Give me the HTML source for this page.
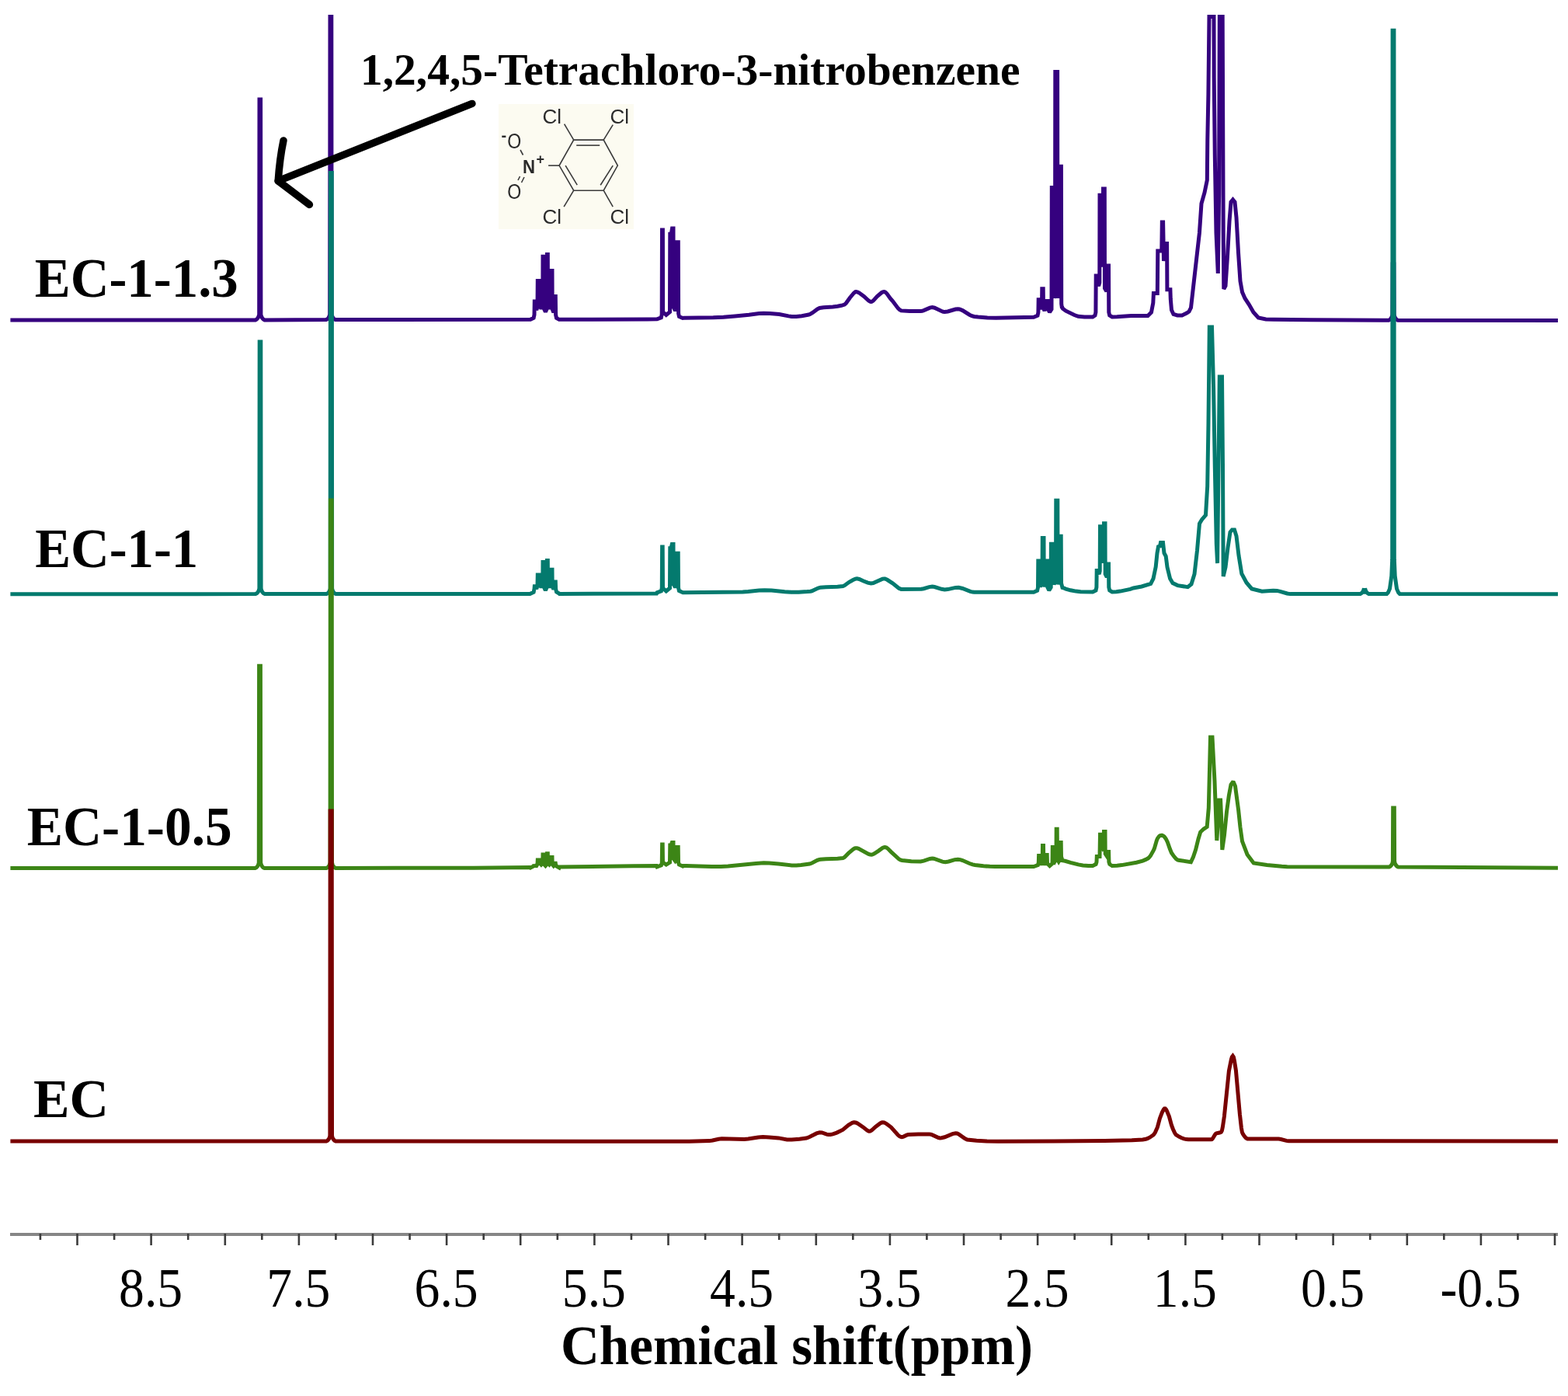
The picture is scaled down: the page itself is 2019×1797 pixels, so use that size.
<!DOCTYPE html>
<html><head><meta charset="utf-8"><title>NMR spectra</title>
<style>html,body{margin:0;padding:0;background:#fff;overflow:hidden}svg{display:block}</style>
</head><body>
<svg width="2019" height="1797" viewBox="0 0 2019 1797">
<rect width="2019" height="1797" fill="#ffffff"/>
<g fill="none" stroke-width="5" stroke-linejoin="miter" stroke-miterlimit="2" stroke-linecap="butt">
<path d="M13.4 412.0L322.4 412.0 328.9 411.9 330.5 411.1 332.0 409.4 333.0 407.4 333.7 404.9 334.0 128.0 335.6 128.0 335.9 404.9 336.6 407.4 337.6 409.4 339.1 411.1 340.7 411.9 419.9 411.6 421.5 410.8 423.0 409.1 424.0 407.1 424.7 404.6 425.0 21.4 426.8 21.4 427.1 404.6 427.8 407.1 428.8 409.1 430.3 410.8 431.9 411.6 683.0 411.3 687.1 409.3 688.0 405.3 688.3 388.1 689.0 388.1 689.2 395.0 690.8 399.0 692.0 395.0 692.3 361.4 694.8 361.4 695.0 393.5 696.9 397.5 698.8 393.5 699.0 330.3 700.3 330.3 700.5 397.5 702.4 401.5 704.2 397.5 704.5 327.5 705.3 327.5 705.5 393.5 707.4 397.5 709.2 393.5 709.5 348.6 711.0 348.6 711.2 398.0 712.8 402.0 714.4 398.0 714.6 381.5 715.3 381.5 715.6 405.3 716.5 409.3 720.0 411.3 833.4 411.0 846.0 410.8 851.3 408.8 852.2 404.8 852.5 296.0 853.4 296.0 853.6 401.5 857.8 405.5 862.5 401.5 862.8 301.2 864.3 301.2 865.5 294.0 867.0 294.0 867.2 395.7 869.5 399.7 871.8 395.7 872.0 311.7 873.3 311.7 873.6 403.5 874.5 407.5 879.0 409.5 880.4 409.3 918.4 408.7 931.4 408.2 946.4 407.0 964.4 405.2 977.4 403.6 983.4 403.2 991.4 403.4 1003.4 404.5 1015.4 406.9 1019.4 407.5 1025.4 407.5 1032.4 406.7 1041.4 405.0 1043.4 404.2 1046.4 402.4 1052.4 397.9 1055.4 396.5 1060.4 395.7 1072.4 394.9 1078.4 394.2 1083.4 393.3 1087.4 392.1 1089.4 390.3 1094.4 383.2 1099.4 377.2 1101.4 375.7 1102.4 375.5 1104.4 376.0 1106.4 377.1 1112.4 381.5 1118.4 387.0 1120.4 388.1 1121.4 388.4 1122.4 388.3 1124.4 387.1 1129.4 381.5 1135.4 376.5 1137.4 375.6 1138.4 375.5 1139.4 375.8 1140.4 376.4 1142.4 378.5 1146.4 384.1 1149.4 387.6 1156.4 396.9 1158.4 398.8 1160.4 399.9 1171.4 400.4 1185.4 400.6 1187.4 400.3 1189.4 399.6 1197.4 396.1 1200.4 395.6 1203.4 396.2 1212.4 400.5 1214.4 401.2 1216.4 401.5 1220.4 401.0 1230.4 398.0 1233.4 397.7 1235.4 398.0 1239.4 399.6 1248.4 405.2 1251.4 406.7 1254.4 407.5 1259.4 408.1 1271.4 409.0 1282.4 409.3 1331.0 408.2 1336.0 406.2 1336.9 402.2 1337.2 385.8 1338.5 385.8 1338.8 394.0 1340.2 398.0 1341.5 394.0 1341.8 371.7 1343.2 371.7 1343.5 396.0 1345.0 400.0 1346.2 396.0 1346.5 387.5 1349.3 387.5 1349.5 398.0 1351.5 402.0 1354.0 398.0 1354.3 241.4 1356.5 241.4 1356.8 379.5 1357.4 383.5 1358.5 379.5 1358.8 92.4 1361.6 92.4 1361.8 379.5 1362.5 383.5 1363.3 379.5 1363.6 214.3 1366.4 214.3 1366.7 391.0 1367.5 397.0 1367.6 395.0 1368.4 397.2 1372.4 400.2 1383.4 405.5 1388.4 407.3 1396.4 407.9 1407.0 408.0 1410.0 406.0 1410.9 402.0 1411.2 355.0 1412.7 355.0 1413.0 364.0 1414.6 368.0 1415.8 364.0 1416.0 251.2 1417.3 251.2 1417.5 339.0 1419.5 343.0 1420.2 339.0 1420.5 243.1 1422.3 243.1 1422.5 371.0 1424.8 375.0 1426.0 371.0 1426.2 342.0 1427.5 342.0 1427.8 402.0 1428.7 406.0 1432.0 408.0 1438.4 407.8 1456.4 406.6 1478.0 406.5 1482.5 402.0 1484.8 390.0 1485.4 377.5 1490.3 377.5 1490.8 323.0 1495.8 323.0 1496.3 286.0 1497.6 286.0 1498.5 336.0 1500.0 313.5 1502.6 313.5 1502.9 372.8 1506.9 372.8 1507.3 385.0 1508.5 399.0 1511.0 404.5 1516.0 406.0 1522.0 406.0 1528.0 403.0 1531.0 401.0 1533.5 396.0 1544.4 300.0 1547.0 262.0 1551.0 248.0 1554.3 232.0 1554.8 180.0 1555.9 122.0 1557.0 21.4 1563.0 21.4 1563.2 100.0 1564.3 200.0 1566.0 300.0 1568.3 352.0 1569.6 250.0 1570.3 21.4 1574.2 21.4 1575.2 300.0 1575.8 372.0 1578.0 368.0 1580.5 330.0 1583.0 285.0 1585.0 260.0 1587.5 257.0 1590.0 260.0 1592.0 280.0 1594.5 325.0 1597.0 362.0 1599.5 376.0 1603.0 384.0 1608.3 392.0 1614.0 402.0 1620.3 409.0 1630.0 411.0 1640.0 411.3 1687.4 411.7 1788.1 412.2 1789.7 411.4 1791.2 409.7 1792.2 407.7 1792.9 405.2 1793.2 340.0 1794.8 340.0 1795.1 405.2 1795.8 407.7 1796.8 409.7 1798.3 411.4 1799.9 412.2 2006.0 412.6" stroke="#35017f"/>
<path d="M13.4 764.8L329.1 764.6 330.7 763.8 332.2 762.1 333.2 760.1 333.9 757.6 334.2 440.0 335.8 440.0 336.1 757.6 336.8 760.1 337.8 762.1 339.3 763.8 340.9 764.6 420.4 764.6 422.0 763.8 423.5 762.1 424.5 760.1 425.2 757.6 425.5 222.5 427.3 222.5 427.6 757.6 428.3 760.1 429.3 762.1 430.8 763.8 432.4 764.6 682.4 764.5 687.1 762.2 688.0 758.2 688.3 754.8 689.0 754.8 690.8 758.0 692.0 754.0 692.3 740.0 694.8 740.0 695.0 752.3 696.9 756.3 698.8 752.3 699.0 723.5 700.3 723.5 700.5 756.0 702.4 760.0 704.2 756.0 704.5 721.6 705.3 721.6 705.5 752.3 707.4 756.3 709.2 752.3 709.5 733.2 711.0 733.2 711.2 754.5 712.8 758.5 714.4 754.5 714.6 749.0 715.3 749.0 715.6 758.0 716.5 762.0 720.0 764.0 720.4 764.4 845.4 764.1 846.0 762.8 851.4 760.8 852.3 756.8 852.6 704.0 853.2 704.0 853.5 757.0 857.8 761.0 862.5 757.0 862.8 705.8 864.0 705.8 865.3 700.5 867.0 700.5 867.2 752.0 869.5 756.0 871.8 752.0 872.0 712.3 873.2 712.3 873.5 756.5 874.4 760.5 879.4 762.8 956.4 761.9 963.4 761.5 977.4 760.0 984.4 759.7 993.4 760.1 1010.4 761.7 1018.4 762.2 1028.4 762.2 1039.4 761.6 1043.4 761.2 1045.4 760.8 1053.4 757.0 1056.4 756.2 1063.4 755.7 1078.4 755.2 1085.4 754.6 1087.4 753.7 1093.4 749.3 1098.4 746.5 1101.4 745.2 1103.4 744.9 1106.4 745.5 1111.4 747.8 1117.4 750.1 1121.4 751.0 1124.4 750.5 1136.4 745.2 1138.4 744.9 1139.4 745.0 1142.4 746.3 1149.4 750.9 1157.4 757.2 1160.4 758.4 1186.4 758.3 1189.4 757.7 1196.4 755.6 1200.4 755.1 1203.4 755.5 1212.4 758.3 1216.4 759.0 1220.4 758.6 1230.4 756.4 1234.4 756.3 1239.4 757.5 1249.4 761.4 1252.4 762.1 1254.4 762.3 1331.0 762.2 1335.6 760.2 1336.5 756.2 1336.8 722.1 1337.8 722.1 1338.0 751.0 1339.8 755.0 1342.0 751.0 1342.3 692.5 1344.0 692.5 1344.2 751.0 1345.5 755.0 1346.8 751.0 1347.0 722.0 1348.6 722.0 1348.8 756.0 1350.8 760.0 1353.2 756.0 1353.4 700.3 1355.5 700.3 1355.8 748.0 1357.2 752.0 1359.5 748.0 1359.8 644.2 1361.8 644.2 1362.0 748.0 1362.8 752.0 1364.0 748.0 1364.2 690.2 1366.2 690.2 1366.5 750.5 1368.0 756.5 1369.4 756.8 1372.4 758.1 1378.4 759.8 1385.4 761.1 1391.4 761.8 1407.0 762.0 1411.0 760.0 1411.9 756.0 1412.2 734.5 1413.0 734.5 1415.3 739.0 1416.2 735.0 1416.5 677.7 1418.0 677.7 1418.2 720.0 1420.0 724.0 1421.2 720.0 1421.5 673.8 1423.0 673.8 1423.2 739.0 1425.2 743.0 1426.8 739.0 1427.0 726.0 1427.5 726.0 1427.8 756.0 1428.7 760.0 1432.0 762.0 1437.4 761.7 1442.4 761.1 1455.4 758.4 1459.4 757.0 1470.0 755.0 1481.7 751.4 1485.0 745.0 1488.2 729.7 1490.0 712.0 1491.5 703.7 1493.5 703.0 1494.5 698.5 1497.5 698.5 1499.0 712.0 1501.2 716.0 1503.0 730.0 1506.6 744.9 1510.0 750.5 1516.4 753.6 1529.4 755.7 1534.0 752.0 1538.0 739.0 1541.5 708.5 1544.5 674.0 1547.5 669.0 1552.5 663.0 1554.7 626.0 1556.0 544.0 1557.3 421.0 1560.5 421.0 1562.6 500.0 1564.3 601.0 1566.3 700.0 1567.6 725.0 1570.3 485.0 1573.5 485.0 1574.5 600.0 1575.2 742.0 1578.0 730.0 1581.0 705.0 1584.0 685.0 1586.5 682.0 1589.5 682.0 1592.0 690.0 1595.0 715.0 1598.8 738.4 1605.0 750.0 1611.8 757.9 1624.9 761.2 1639.4 760.2 1644.4 760.4 1648.4 761.3 1657.4 764.0 1661.4 764.6 1751.6 764.4 1753.2 763.6 1754.7 761.9 1755.7 759.9 1756.4 757.4 1756.7 762.2 1757.3 762.2 1757.6 757.4 1758.3 759.9 1759.3 761.9 1760.8 763.6 1762.4 764.4 1785.7 764.4 1787.3 762.9 1789.5 757.9 1791.8 741.4 1792.7 720.4 1793.1 39.2 1794.9 39.2 1795.3 720.4 1796.2 741.4 1798.5 757.9 1800.7 762.9 1802.3 764.4 2006.0 764.8" stroke="#047a6e"/>
<path d="M13.4 1117.6L328.5 1117.6 330.1 1116.8 331.6 1115.1 332.6 1113.1 333.3 1110.6 333.6 857.3 335.4 857.3 335.7 1110.6 336.4 1113.1 337.4 1115.1 338.9 1116.8 340.5 1117.6 420.3 1117.5 421.9 1116.7 423.4 1115.0 424.4 1113.0 425.1 1110.5 425.4 644.0 427.2 644.0 427.5 1110.5 428.2 1113.0 429.2 1115.0 430.7 1116.7 432.3 1117.5 609.4 1117.2 682.4 1116.5 683.0 1117.0 687.1 1115.0 688.0 1113.0 688.3 1114.2 690.8 1114.5 692.0 1112.5 692.3 1107.1 694.8 1107.1 695.0 1111.0 696.9 1113.0 698.8 1111.0 699.0 1099.9 700.3 1099.9 700.5 1112.5 702.4 1114.5 704.2 1112.5 704.5 1098.8 705.3 1098.8 705.5 1111.0 707.4 1113.0 709.2 1111.0 709.5 1103.5 711.0 1103.5 711.2 1112.5 712.8 1114.5 714.4 1112.5 714.6 1111.2 715.3 1111.2 715.6 1113.0 716.5 1115.0 720.0 1117.0 720.4 1116.0 815.4 1114.8 845.4 1114.6 846.0 1115.8 851.4 1113.8 852.3 1110.8 852.6 1086.9 853.2 1086.9 853.5 1110.0 857.8 1113.0 862.5 1110.0 862.8 1088.0 864.0 1088.0 865.3 1084.5 867.0 1084.5 867.2 1105.5 869.5 1108.5 871.8 1105.5 872.0 1090.4 873.2 1090.4 873.5 1110.0 874.4 1113.0 879.0 1115.0 879.4 1114.5 883.4 1114.5 916.4 1115.5 928.4 1115.5 937.4 1114.9 973.4 1111.4 983.4 1110.8 990.4 1111.0 1002.4 1111.9 1019.4 1113.9 1025.4 1113.9 1031.4 1113.5 1042.4 1112.1 1045.4 1111.0 1052.4 1107.4 1054.4 1106.6 1056.4 1106.2 1063.4 1105.7 1078.4 1105.2 1085.4 1104.6 1087.4 1103.4 1092.4 1098.4 1098.4 1093.3 1100.4 1092.1 1101.4 1091.7 1103.4 1091.7 1105.4 1092.4 1118.4 1099.4 1120.4 1100.1 1122.4 1100.3 1123.4 1100.0 1125.4 1099.1 1131.4 1095.1 1136.4 1091.4 1138.4 1090.6 1139.4 1090.5 1141.4 1091.1 1143.4 1092.6 1147.4 1096.6 1157.4 1105.8 1159.4 1107.0 1161.4 1107.5 1173.4 1108.7 1185.4 1109.0 1189.4 1108.2 1197.4 1105.5 1200.4 1105.1 1202.4 1105.3 1204.4 1105.8 1213.4 1109.2 1215.4 1109.6 1217.4 1109.7 1221.4 1109.0 1229.4 1106.6 1233.4 1106.2 1236.4 1106.6 1239.4 1107.5 1248.4 1111.5 1252.4 1112.9 1255.4 1113.5 1266.4 1114.7 1274.4 1115.3 1281.4 1115.6 1331.0 1115.5 1336.4 1113.5 1337.3 1110.5 1337.6 1101.5 1338.6 1101.5 1338.8 1110.0 1340.5 1113.0 1342.2 1110.0 1342.5 1088.5 1343.5 1088.5 1343.8 1110.0 1345.5 1113.0 1347.2 1110.0 1347.4 1100.5 1348.2 1100.5 1348.5 1111.5 1351.6 1114.5 1355.0 1111.5 1355.3 1090.6 1356.2 1090.6 1356.5 1106.0 1358.2 1109.0 1360.0 1106.0 1360.2 1067.2 1361.2 1067.2 1361.5 1106.0 1363.2 1109.0 1365.0 1106.0 1365.3 1084.6 1366.2 1084.6 1366.5 1102.7 1367.4 1105.7 1367.5 1107.7 1371.4 1108.3 1378.4 1110.4 1388.4 1112.9 1394.4 1113.9 1401.4 1114.4 1407.0 1114.5 1411.1 1112.5 1412.0 1109.5 1412.3 1102.6 1416.0 1102.6 1416.5 1074.3 1417.3 1074.3 1417.5 1089.0 1419.6 1092.0 1421.2 1089.0 1421.5 1070.5 1423.0 1070.5 1423.2 1099.0 1425.2 1102.0 1427.0 1099.0 1427.2 1096.6 1427.6 1096.6 1427.9 1109.5 1428.8 1112.5 1432.0 1114.5 1438.4 1114.2 1444.4 1113.6 1463.4 1110.2 1471.4 1108.1 1475.4 1106.4 1478.4 1104.8 1479.4 1104.0 1481.4 1101.6 1485.4 1094.4 1486.4 1092.1 1489.4 1081.9 1490.4 1079.4 1492.4 1076.6 1493.4 1075.7 1495.4 1075.3 1496.4 1075.3 1498.4 1076.3 1499.4 1077.2 1501.4 1080.0 1503.4 1084.2 1506.4 1092.8 1508.4 1097.7 1511.4 1102.1 1514.4 1105.6 1516.4 1107.0 1517.4 1107.3 1533.4 1109.7 1536.5 1103.0 1539.6 1093.8 1543.0 1080.0 1545.7 1071.0 1550.0 1067.0 1554.2 1064.4 1556.3 1040.0 1558.5 949.0 1561.0 949.0 1564.0 1005.7 1566.8 1082.0 1568.8 1050.0 1569.8 1030.0 1571.6 1030.0 1572.5 1050.0 1573.8 1094.0 1576.5 1075.0 1579.5 1045.0 1582.4 1024.0 1585.0 1010.0 1587.9 1006.0 1590.5 1012.0 1594.6 1042.4 1597.0 1065.0 1599.5 1082.8 1606.0 1100.0 1614.2 1110.9 1631.4 1113.4 1650.4 1115.3 1657.4 1115.8 1788.6 1116.0 1790.2 1115.2 1791.7 1113.5 1792.7 1111.5 1793.4 1109.0 1793.7 1039.9 1795.3 1039.9 1795.6 1109.0 1796.3 1111.5 1797.3 1113.5 1798.8 1115.2 1800.4 1116.1 2006.0 1117.2" stroke="#3c8516"/>
<path d="M13.4 1469.0L420.1 1469.0 421.7 1468.2 423.2 1466.5 424.2 1464.5 424.9 1462.0 425.2 1044.0 427.2 1044.0 427.5 1462.0 428.2 1464.5 429.2 1466.5 430.7 1468.2 432.3 1469.0 887.4 1469.3 913.4 1468.6 917.4 1468.0 925.4 1466.3 929.4 1465.8 958.4 1466.4 963.4 1466.0 976.4 1464.0 982.4 1463.6 990.4 1463.9 1002.4 1464.9 1013.4 1467.0 1019.4 1467.0 1029.4 1466.3 1038.4 1465.1 1042.4 1463.5 1051.4 1458.9 1055.4 1457.8 1058.4 1457.9 1064.4 1460.1 1066.4 1460.5 1069.4 1460.5 1072.4 1459.9 1077.4 1458.1 1085.4 1454.2 1092.4 1448.4 1097.4 1445.4 1099.4 1444.8 1100.4 1444.7 1102.4 1445.2 1104.4 1446.2 1111.4 1450.9 1116.4 1455.0 1118.4 1456.0 1119.4 1456.2 1120.4 1456.1 1122.4 1455.0 1127.4 1450.4 1133.4 1446.0 1135.4 1445.0 1136.4 1444.8 1138.4 1444.9 1141.4 1446.5 1147.4 1451.1 1156.4 1461.2 1158.4 1462.7 1160.4 1463.5 1161.4 1463.6 1163.4 1463.1 1167.4 1461.2 1169.4 1460.6 1182.4 1460.1 1196.4 1459.9 1198.4 1460.2 1200.4 1460.9 1208.4 1464.5 1210.4 1464.9 1212.4 1464.8 1216.4 1463.8 1226.4 1459.6 1230.4 1458.8 1232.4 1459.0 1234.4 1459.9 1242.4 1465.6 1245.4 1467.0 1257.4 1468.2 1270.4 1469.0 1285.4 1469.3 1357.4 1469.0 1422.4 1468.4 1457.4 1467.7 1471.4 1466.9 1475.4 1466.2 1477.4 1465.6 1480.4 1464.2 1485.4 1460.7 1487.4 1457.8 1490.4 1450.9 1493.4 1439.7 1496.4 1431.9 1498.4 1428.1 1499.4 1427.1 1500.4 1427.1 1501.4 1428.1 1502.4 1429.9 1505.4 1437.1 1508.4 1448.2 1510.4 1453.5 1512.4 1457.9 1513.4 1459.6 1514.4 1460.8 1515.4 1461.5 1518.4 1463.3 1521.4 1464.8 1524.4 1465.9 1527.4 1466.6 1530.4 1466.8 1559.4 1466.8 1560.4 1466.6 1561.4 1465.7 1564.4 1460.7 1565.4 1459.4 1566.4 1458.8 1570.4 1458.0 1572.4 1457.2 1573.4 1455.4 1574.4 1450.5 1576.4 1437.0 1582.4 1378.7 1585.4 1363.6 1586.4 1360.5 1587.4 1359.2 1588.4 1360.7 1589.4 1365.1 1591.4 1377.9 1596.4 1434.2 1598.4 1451.8 1599.4 1457.6 1600.4 1459.7 1602.4 1462.8 1604.4 1464.9 1606.4 1466.0 1646.4 1466.1 1649.4 1466.5 1656.4 1468.4 1659.4 1468.7 2006.0 1469.0" stroke="#780000"/>
</g>
<g stroke="#868686" stroke-width="4">
<line x1="13" y1="1589.0" x2="2006" y2="1589.0"/>
</g>
<g stroke="#3c3c3c" stroke-width="2.6">
<line x1="99.5" y1="1588.0" x2="99.5" y2="1603.0"/>
<line x1="194.6" y1="1588.0" x2="194.6" y2="1603.0"/>
<line x1="289.8" y1="1588.0" x2="289.8" y2="1603.0"/>
<line x1="384.9" y1="1588.0" x2="384.9" y2="1603.0"/>
<line x1="480.0" y1="1588.0" x2="480.0" y2="1603.0"/>
<line x1="575.1" y1="1588.0" x2="575.1" y2="1603.0"/>
<line x1="670.2" y1="1588.0" x2="670.2" y2="1603.0"/>
<line x1="765.4" y1="1588.0" x2="765.4" y2="1603.0"/>
<line x1="860.5" y1="1588.0" x2="860.5" y2="1603.0"/>
<line x1="955.6" y1="1588.0" x2="955.6" y2="1603.0"/>
<line x1="1050.8" y1="1588.0" x2="1050.8" y2="1603.0"/>
<line x1="1145.9" y1="1588.0" x2="1145.9" y2="1603.0"/>
<line x1="1241.0" y1="1588.0" x2="1241.0" y2="1603.0"/>
<line x1="1336.1" y1="1588.0" x2="1336.1" y2="1603.0"/>
<line x1="1431.2" y1="1588.0" x2="1431.2" y2="1603.0"/>
<line x1="1526.4" y1="1588.0" x2="1526.4" y2="1603.0"/>
<line x1="1621.5" y1="1588.0" x2="1621.5" y2="1603.0"/>
<line x1="1716.6" y1="1588.0" x2="1716.6" y2="1603.0"/>
<line x1="1811.8" y1="1588.0" x2="1811.8" y2="1603.0"/>
<line x1="1906.9" y1="1588.0" x2="1906.9" y2="1603.0"/>
<line x1="2002.0" y1="1588.0" x2="2002.0" y2="1603.0"/>
<line x1="51.9" y1="1588.0" x2="51.9" y2="1596.0"/>
<line x1="147.1" y1="1588.0" x2="147.1" y2="1596.0"/>
<line x1="242.2" y1="1588.0" x2="242.2" y2="1596.0"/>
<line x1="337.3" y1="1588.0" x2="337.3" y2="1596.0"/>
<line x1="432.4" y1="1588.0" x2="432.4" y2="1596.0"/>
<line x1="527.6" y1="1588.0" x2="527.6" y2="1596.0"/>
<line x1="622.7" y1="1588.0" x2="622.7" y2="1596.0"/>
<line x1="717.8" y1="1588.0" x2="717.8" y2="1596.0"/>
<line x1="812.9" y1="1588.0" x2="812.9" y2="1596.0"/>
<line x1="908.1" y1="1588.0" x2="908.1" y2="1596.0"/>
<line x1="1003.2" y1="1588.0" x2="1003.2" y2="1596.0"/>
<line x1="1098.3" y1="1588.0" x2="1098.3" y2="1596.0"/>
<line x1="1193.4" y1="1588.0" x2="1193.4" y2="1596.0"/>
<line x1="1288.6" y1="1588.0" x2="1288.6" y2="1596.0"/>
<line x1="1383.7" y1="1588.0" x2="1383.7" y2="1596.0"/>
<line x1="1478.8" y1="1588.0" x2="1478.8" y2="1596.0"/>
<line x1="1573.9" y1="1588.0" x2="1573.9" y2="1596.0"/>
<line x1="1669.1" y1="1588.0" x2="1669.1" y2="1596.0"/>
<line x1="1764.2" y1="1588.0" x2="1764.2" y2="1596.0"/>
<line x1="1859.3" y1="1588.0" x2="1859.3" y2="1596.0"/>
<line x1="1954.4" y1="1588.0" x2="1954.4" y2="1596.0"/>
</g>
<g font-family="'Liberation Serif','Times New Roman',serif" font-size="71" fill="#000" text-anchor="middle">
<text transform="translate(194.1 1682) scale(0.925 1)">8.5</text>
<text transform="translate(384.4 1682) scale(0.925 1)">7.5</text>
<text transform="translate(574.6 1682) scale(0.925 1)">6.5</text>
<text transform="translate(764.9 1682) scale(0.925 1)">5.5</text>
<text transform="translate(955.1 1682) scale(0.925 1)">4.5</text>
<text transform="translate(1145.4 1682) scale(0.925 1)">3.5</text>
<text transform="translate(1335.6 1682) scale(0.925 1)">2.5</text>
<text transform="translate(1525.9 1682) scale(0.925 1)">1.5</text>
<text transform="translate(1716.1 1682) scale(0.925 1)">0.5</text>
<text transform="translate(1906.4 1682) scale(0.925 1)">-0.5</text>
</g>
<g font-family="'Liberation Serif','Times New Roman',serif" font-weight="bold" fill="#000">
<text x="44.8" y="381.7" font-size="72" textLength="262" lengthAdjust="spacingAndGlyphs">EC-1-1.3</text>
<text x="45.2" y="730.2" font-size="72" textLength="210" lengthAdjust="spacingAndGlyphs">EC-1-1</text>
<text x="34.7" y="1088.4" font-size="72" textLength="264" lengthAdjust="spacingAndGlyphs">EC-1-0.5</text>
<text x="43" y="1438.4" font-size="70.5" textLength="97" lengthAdjust="spacingAndGlyphs">EC</text>
<text x="722" y="1756.4" font-size="71" textLength="608" lengthAdjust="spacingAndGlyphs">Chemical shift(ppm)</text>
<text x="464" y="109" font-size="56" textLength="849.5" lengthAdjust="spacingAndGlyphs">1,2,4,5-Tetrachloro-3-nitrobenzene</text>
</g>
<g stroke="#000" stroke-width="9.5" stroke-linecap="round" stroke-linejoin="round" fill="none">
<path d="M607.9 133.4 L358.2 232.9"/>
<path d="M365 180.9 Q360 205 358.2 232.9 L398.4 263.4"/>
</g>
<rect x="642" y="134" width="174" height="161" fill="#fcfbf1"/>
<g stroke="#3a3a3a" stroke-width="1.6" fill="none">
<path d="M738.7 180.1 L777.2 180.1 L795.3 213.1 L777.2 245.2 L738.7 245.2 L720.1 213.1 Z"/>
<path d="M742.2 187.1 L772.2 187.1"/>
<path d="M728.1 213.1 L743.2 238.2"/>
<path d="M789.2 213.1 L773.2 238.2"/>
<path d="M738.7 180.1 L726.6 159.6"/>
<path d="M777.2 180.1 L789.2 160.6"/>
<path d="M738.7 245.2 L726.1 266.2"/>
<path d="M777.2 245.2 L789.2 266.2"/>
<path d="M720.1 213.1 L706.1 213.1"/>
<path d="M670 193 L673.5 199.5"/>
<path d="M667 232 L669.5 227 M671.5 235 L675 228"/>
</g>
<g font-family="'Liberation Sans',Arial,sans-serif" font-size="26" fill="#2a2a2a">
<text x="698.5" y="158.5">Cl</text>
<text x="785.5" y="158.5">Cl</text>
<text x="698.5" y="287.5">Cl</text>
<text x="785.5" y="287.5">Cl</text>
<text x="673" y="222.5" font-size="24" font-weight="bold" textLength="16" lengthAdjust="spacingAndGlyphs">N</text>
<text x="690.5" y="210.5" font-size="18" font-weight="bold">+</text>
<text x="653.2" y="191.2" font-size="27" textLength="18" lengthAdjust="spacingAndGlyphs">O</text>
<text x="645.5" y="181" font-size="20" font-weight="bold">-</text>
<text x="653.2" y="256.2" font-size="27" textLength="18" lengthAdjust="spacingAndGlyphs">O</text>
</g>
</svg>
</body></html>
